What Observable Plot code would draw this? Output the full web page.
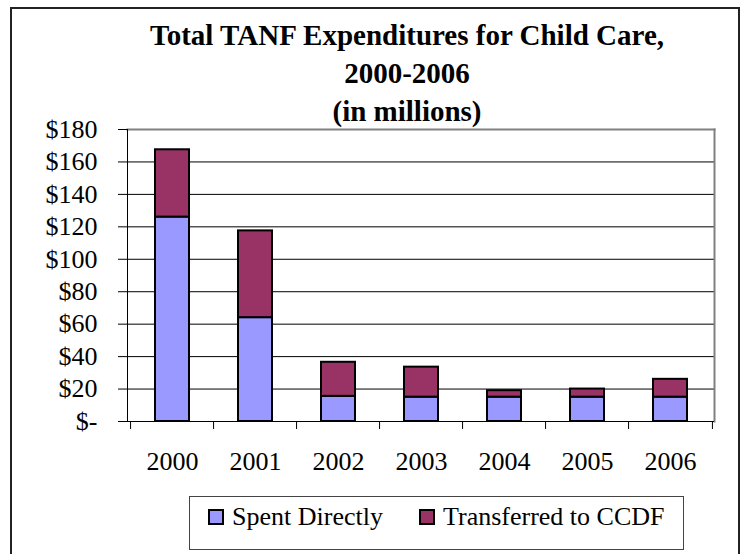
<!DOCTYPE html>
<html><head><meta charset="utf-8">
<script src="https://cdn.jsdelivr.net/npm/d3@7"></script>
<script src="https://cdn.jsdelivr.net/npm/@observablehq/plot@0.6"></script>
<style>
body{margin:0;background:#fff;font-family:"Liberation Serif","Times New Roman",Times,"Nimbus Roman","Tinos","DejaVu Serif",serif;color:#000;}
#wrap{position:relative;width:746px;height:554px;overflow:hidden;}
#frame{position:absolute;left:10px;top:7px;width:730px;height:600px;border:2px solid #222;box-sizing:border-box;pointer-events:none;}
#title{position:relative;height:120px;box-sizing:border-box;padding:16px 0 0 68px;text-align:center;font-weight:bold;font-size:29px;line-height:38px;}
#chart{position:relative;}
#legend{position:absolute;left:189px;top:496px;width:495px;height:54px;border:1px solid #444;box-sizing:border-box;background:#fff;}
.sw{position:absolute;top:12px;width:16px;height:16px;border:2px solid #000;box-sizing:border-box;}
.lt{position:absolute;top:7px;font-size:26px;line-height:26px;white-space:nowrap;}
#test{position:absolute;left:0;top:0;font-size:12px;}
</style></head>
<body>
<div id="wrap">
  <div id="frame"></div>
  <div id="title">Total TANF Expenditures for Child Care,<br>2000-2006<br>(in millions)</div>
  <div id="chart"></div>
  <div id="legend"></div>
</div>
<script>
const years = ["2000", "2001", "2002", "2003", "2004", "2005", "2006"];
const spentDirectly = [126, 64, 15.5, 15, 15, 15, 15];
const transferredToCCDF = [41.5, 53.5, 21, 18.5, 4, 5, 11];
const seriesNames = ["Spent Directly", "Transferred to CCDF"];
const seriesColors = ["#9999FF", "#993366"];
const yTicks = [0, 20, 40, 60, 80, 100, 120, 140, 160, 180];

const data = years.flatMap((yr, i) => [
  {year: yr, series: seriesNames[0], value: spentDirectly[i]},
  {year: yr, series: seriesNames[1], value: transferredToCCDF[i]}
]);

const W = 746, mL = 127, mR = 32;
const step = (W - mL - mR) / years.length;
const font = '"Liberation Serif","Times New Roman",Times,"Nimbus Roman",Tinos,"DejaVu Serif",serif';

const chart = Plot.plot({
  width: W, height: 365,
  marginTop: 9, marginBottom: 64, marginLeft: mL, marginRight: mR,
  style: {fontFamily: font, fontSize: "26px", color: "#000", background: "transparent", overflow: "visible"},
  x: {domain: years, paddingInner: 0.595, paddingOuter: 0.2976, axis: null, label: null},
  y: {domain: [0, 180], axis: null, label: null},
  color: {domain: seriesNames, range: seriesColors},
  marks: [
    Plot.ruleY(yTicks.filter(v => v > 0 && v < 180), {stroke: "#000", strokeWidth: 1}),
    Plot.frame({anchor: "top", stroke: "#808080", strokeWidth: 2}),
    Plot.frame({anchor: "right", stroke: "#808080", strokeWidth: 2}),
    Plot.barY(data, {x: "year", y: "value", fill: "series", stroke: "#000", strokeWidth: 2}),
    Plot.frame({anchor: "left", stroke: "#000", strokeWidth: 1}),
    Plot.ruleY([0], {stroke: "#000", strokeWidth: 1}),
    Plot.axisY({ticks: yTicks, tickSize: 9, tickPadding: 21, label: null, tickFormat: v => v === 0 ? "$-" : "$" + v, fontSize: 26, stroke: "#000"}),
    Plot.axisX({tickSize: 0, tickPadding: 30, label: null, fontSize: 26}),
    Plot.axisX(years, {tickSize: 8, label: null, tickFormat: () => "", dx: -step / 2, stroke: "#000"}),
    Plot.axisX([years[years.length - 1]], {tickSize: 8, label: null, tickFormat: () => "", dx: step / 2, stroke: "#000"})
  ]
});
document.getElementById("chart").appendChild(chart);

const legend = document.getElementById("legend");
const swLeft = [18, 229], txtLeft = [42, 253];
seriesNames.forEach((name, i) => {
  const sw = document.createElement("div");
  sw.className = "sw";
  sw.style.left = swLeft[i] + "px";
  sw.style.background = seriesColors[i];
  legend.appendChild(sw);
  const t = document.createElement("div");
  t.className = "lt";
  t.style.left = txtLeft[i] + "px";
  t.textContent = name;
  legend.appendChild(t);
});
</script>
</body></html>
